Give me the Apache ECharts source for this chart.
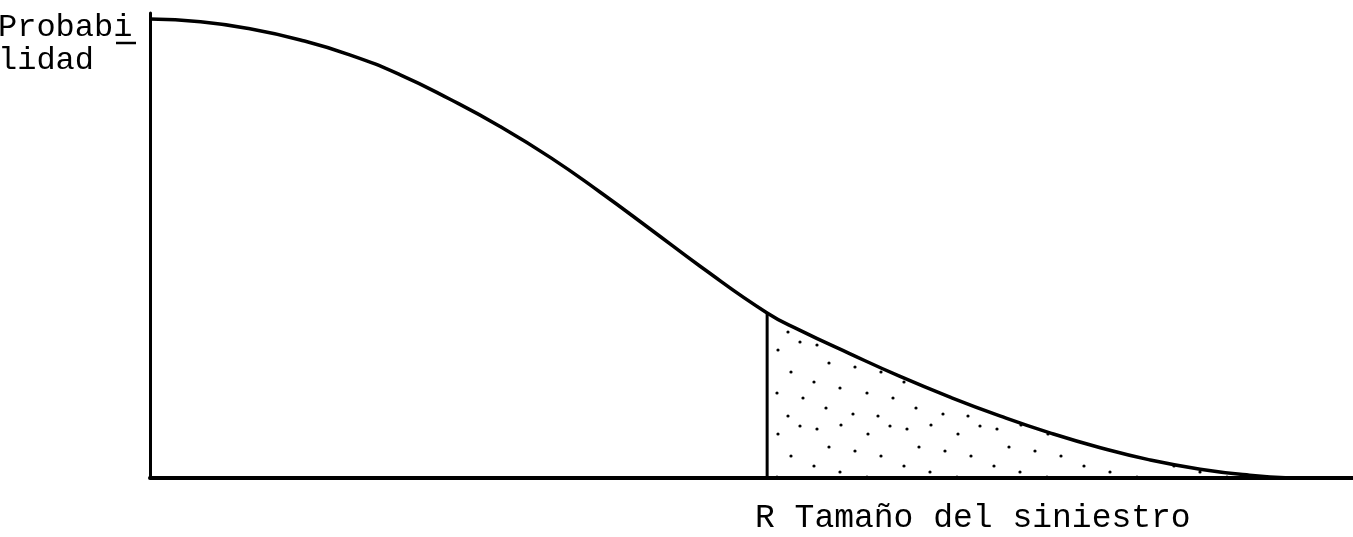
<!DOCTYPE html>
<html>
<head>
<meta charset="utf-8">
<script src="https://cdn.jsdelivr.net/npm/echarts@6/dist/echarts.min.js"></script>
<style>
html,body{margin:0;padding:0;background:#fff;}
#c{width:1353px;height:537px;}
</style>
</head>
<body>
<div id="c"></div>
<script>
// Data (abstract units: size 0..100, probability 0..100)
var sizeValues = [0, 4.2, 8.3, 12.5, 16.6, 20.8, 24.9, 29.1, 33.3, 37.4, 41.6, 45.7, 51.3, 54.0, 58.2, 62.3, 66.5, 70.7, 74.8, 79.0, 83.1, 87.3, 91.4, 94.8];
var probValues = [98.7, 98.1, 96.6, 94.2, 91.0, 86.7, 81.5, 75.6, 68.9, 61.5, 53.5, 45.6, 35.5, 31.8, 26.7, 21.9, 17.4, 13.3, 9.7, 6.5, 3.9, 1.9, 0.6, 0];
var rValue = 51.3;
var yLabel = 'Probabi\nlidad';
var xLabel = 'R Tamaño del siniestro';

var curve = sizeValues.map(function (x, i) { return [x, probValues[i]]; });
var tail = curve.filter(function (p) { return p[0] >= rValue; });
var rIndex = sizeValues.indexOf(rValue);
var rLine = [[rValue, 0], [rValue, probValues[rIndex]]];

// dotted pattern for the shaded tail
var pat = document.createElement('canvas');
pat.width = 90; pat.height = 84;
var ctx = pat.getContext('2d');
ctx.fillStyle = '#000';
[[7,9],[31,5],[58,14],[80,6],[19,27],[45,31],[71,36],[4,46],[30,52],[57,57],[83,62],[16,72],[43,78],[68,80]].forEach(function (d) {
  ctx.beginPath(); ctx.arc(d[0], d[1], 1.6, 0, Math.PI * 2); ctx.fill();
});

var chart = echarts.init(document.getElementById('c'));
chart.setOption({
  animation: false,
  backgroundColor: '#fff',
  grid: { left: 150, right: 0, top: 13, bottom: 59 },
  xAxis: {
    type: 'value', min: 0, max: 100,
    axisLine: { show: true, onZero: false, lineStyle: { color: '#000', width: 4 } },
    axisTick: { show: false }, axisLabel: { show: false }, splitLine: { show: false }
  },
  yAxis: {
    type: 'value', min: 0, max: 100,
    axisLine: { show: true, onZero: false, lineStyle: { color: '#000', width: 3 } },
    axisTick: { show: false }, axisLabel: { show: false }, splitLine: { show: false }
  },
  series: [
    {
      type: 'line', data: tail, smooth: 0.5, symbol: 'none', z: 1,
      lineStyle: { width: 0 },
      areaStyle: { color: { image: pat, repeat: 'repeat' }, opacity: 1 }
    },
    {
      type: 'line', data: curve, smooth: 0.5, symbol: 'none', z: 3,
      lineStyle: { color: '#000', width: 3.5 }
    },
    {
      type: 'line', data: rLine, symbol: 'none', z: 3,
      lineStyle: { color: '#000', width: 3 }
    }
  ],
  graphic: [
    { type: 'text', left: -2, top: 11, z: 10,
      style: { text: yLabel, font: '32px "Liberation Mono"', fill: '#000', lineHeight: 33 } },
    { type: 'line', z: 10, shape: { x1: 116, y1: 43, x2: 136, y2: 43 },
      style: { stroke: '#000', lineWidth: 2.5 } },
    { type: 'text', left: 755, top: 502, z: 10,
      style: { text: xLabel, font: '33px "Liberation Mono"', fill: '#000' } }
  ]
});
</script>
</body>
</html>
